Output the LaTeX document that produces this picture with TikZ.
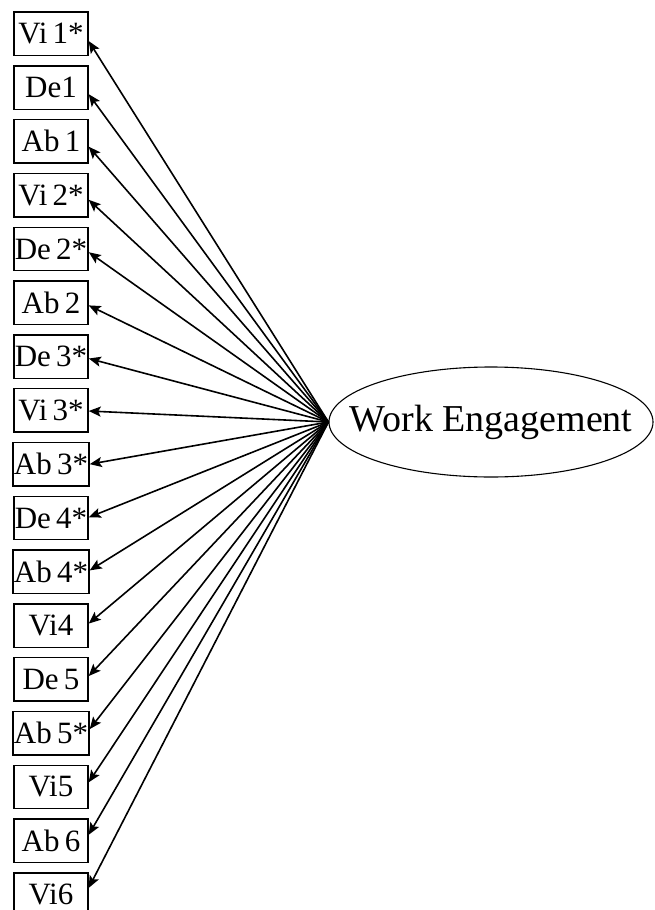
\documentclass[tikz,border=0pt]{standalone}
\usepackage{fontspec}
\setmainfont{Liberation Serif}
\usetikzlibrary{shapes.geometric,arrows.meta}
\begin{document}
\begin{tikzpicture}[x=1pt,y=-1pt,
  itembox/.style={draw,line width=1.4pt,rectangle,minimum width=74pt,minimum height=43.5pt,inner sep=1pt,font=\fontsize{31}{31}\selectfont},
  latent/.style={draw,line width=1.1pt,ellipse,minimum width=324pt,minimum height=110pt,inner sep=0pt,font=\fontsize{38}{38}\selectfont},
  load/.style={line width=1.6pt,-{Stealth[length=12pt,width=10pt,inset=2.5pt]}}]
\useasboundingbox (0,0) rectangle (654,910);
\node[latent] (we) at (491,422) {\makebox[0pt]{Work Engagement}};
\foreach \lab [count=\i] in {Vi\,1*,De1,Ab\,1,Vi\,2*,De\,2*,Ab\,2,De\,3*,Vi\,3*,Ab\,3*,De\,4*,Ab\,4*,Vi4,De\,5,Ab\,5*,Vi5,Ab\,6,Vi6}{
  \node[itembox] (b\i) at (51,{33.75+(\i-1)*53.8}) {\lab};
  \pgfmathsetmacro\ang{-atan((7.5-0.906*(\i-1))/37)}
  \draw[load] (we.west) -- (b\i.\ang);
}
\end{tikzpicture}
\end{document}
